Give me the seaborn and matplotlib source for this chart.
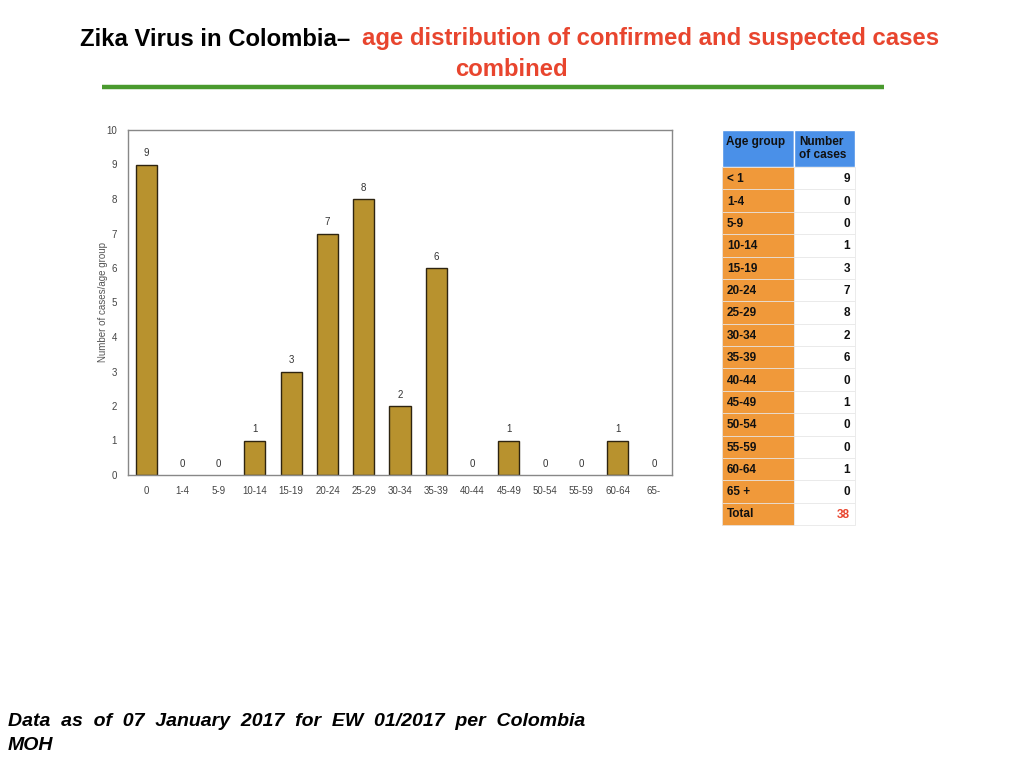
import matplotlib
matplotlib.use("Agg")
import matplotlib.pyplot as plt
import seaborn as sns
import pandas as pd
from matplotlib.patches import Rectangle
from matplotlib.lines import Line2D

# ---- data ----
age_labels = ["0", "1-4", "5-9", "10-14", "15-19", "20-24", "25-29", "30-34",
              "35-39", "40-44", "45-49", "50-54", "55-59", "60-64", "65-"]
cases = [9, 0, 0, 1, 3, 7, 8, 2, 6, 0, 1, 0, 0, 1, 0]
table_groups = ["< 1", "1-4", "5-9", "10-14", "15-19", "20-24", "25-29", "30-34",
                "35-39", "40-44", "45-49", "50-54", "55-59", "60-64", "65 +"]
table_header = ["Age group", "Number\nof cases"]
total_label = "Total"
total_value = sum(cases)

title_black = "Zika Virus in Colombia–"
title_red_1 = "age distribution of confirmed and suspected cases"
title_red_2 = "combined"
footnote_1 = "Data  as  of  07  January  2017  for  EW  01/2017  per  Colombia"
footnote_2 = "MOH"
y_label = "Number of cases/age group"

sns.set_theme(style="white")
plt.rcParams['font.family'] = ['Liberation Sans', 'DejaVu Sans']

fig = plt.figure(figsize=(10.24, 7.68), dpi=100)
W, H = 1024, 768
def fx(x): return x / W
def fy(y): return 1 - y / H

# ---- bar chart ----
ax = fig.add_axes([fx(128), fy(475), fx(672) - fx(128), fy(130) - fy(475)])
df = pd.DataFrame({"age": age_labels, "cases": cases})
sns.barplot(data=df, x="age", y="cases", ax=ax, color="#B8922E", saturation=1,
            width=0.58, edgecolor="#2E2410", linewidth=1.0)
for p in ax.patches:
    if p.get_height() == 0:
        p.set_linewidth(0)
ax.set_ylim(0, 10)
ax.set_yticks(range(0, 11))
ax.set_xlim(-0.5, len(age_labels) - 0.5)
ax.set_xlabel("")
ax.set_ylabel(y_label, fontsize=7, color="#555555", labelpad=-1)
ax.tick_params(axis="both", labelsize=7, colors="#444444", length=0, pad=8)
for s in ax.spines.values():
    s.set_color("#888888")
    s.set_linewidth(1.0)
for i, v in enumerate(cases):
    ax.text(i, v + 0.18, str(v), ha="center", va="bottom", fontsize=7,
            color="#333333")

# ---- table ----
tx0, tx1, tx2 = 722, 794, 855
hy0, hy1 = 130, 167
rows = table_groups + [total_label]
vals = [str(v) for v in cases] + [str(total_value)]
rh = (525 - hy1) / len(rows)
tab = fig.add_axes([0, 0, 1, 1])
tab.set_xlim(0, W)
tab.set_ylim(H, 0)
tab.axis("off")
tab.add_patch(Rectangle((tx0, hy0), tx1 - tx0, hy1 - hy0, facecolor="#4A90E8",
                        edgecolor="white", linewidth=1))
tab.add_patch(Rectangle((tx1, hy0), tx2 - tx1, hy1 - hy0, facecolor="#4A90E8",
                        edgecolor="white", linewidth=1))
tab.text(tx0 + 4, hy0 + 6, table_header[0], fontsize=8.5, fontweight="bold",
         va="top", ha="left", color="#111111")
tab.text(tx1 + 5, hy0 + 6, table_header[1], fontsize=8.5, fontweight="bold",
         va="top", ha="left", color="#111111", linespacing=1.15)
for i, (g, v) in enumerate(zip(rows, vals)):
    y0 = hy1 + i * rh
    tab.add_patch(Rectangle((tx0, y0), tx1 - tx0, rh, facecolor="#F0993A",
                            edgecolor="#E8E0D8", linewidth=0.6))
    tab.add_patch(Rectangle((tx1, y0), tx2 - tx1, rh, facecolor="white",
                            edgecolor="#E8E8E8", linewidth=0.6))
    is_total = (i == len(rows) - 1)
    tab.text(tx0 + 5, y0 + rh / 2 + (0 if is_total else 1), g, fontsize=8.5,
             fontweight="bold", va="center", ha="left", color="#111111")
    tab.text(tx2 - 5, y0 + rh / 2 + 1, v, fontsize=8.5, fontweight="bold",
             va="center", ha="right",
             color="#E8452E" if is_total else "#111111")

# ---- title ----
tfam = ["Liberation Sans Narrow", "Liberation Sans", "DejaVu Sans"]
tab.text(350, 39, title_black, fontsize=17.2, fontweight="bold", ha="right",
         va="center", color="black", family=tfam)
tab.text(362, 39, title_red_1, fontsize=17.2, fontweight="bold", ha="left",
         va="center", color="#E8452E", family=tfam)
tab.text(511, 70, title_red_2, fontsize=17.2, fontweight="bold", ha="center",
         va="center", color="#E8452E", family=tfam)
tab.add_line(Line2D([102, 884], [87, 87], color="#4A9A2E", linewidth=3.2,
                    solid_capstyle="butt"))

# ---- footnote ----
tab.text(8, 721, footnote_1, fontsize=14, fontweight="bold", style="italic",
         ha="left", va="center", color="black")
tab.text(8, 746, footnote_2, fontsize=14, fontweight="bold", style="italic",
         ha="left", va="center", color="black")

fig.savefig("out.png", dpi=100, facecolor="white")
